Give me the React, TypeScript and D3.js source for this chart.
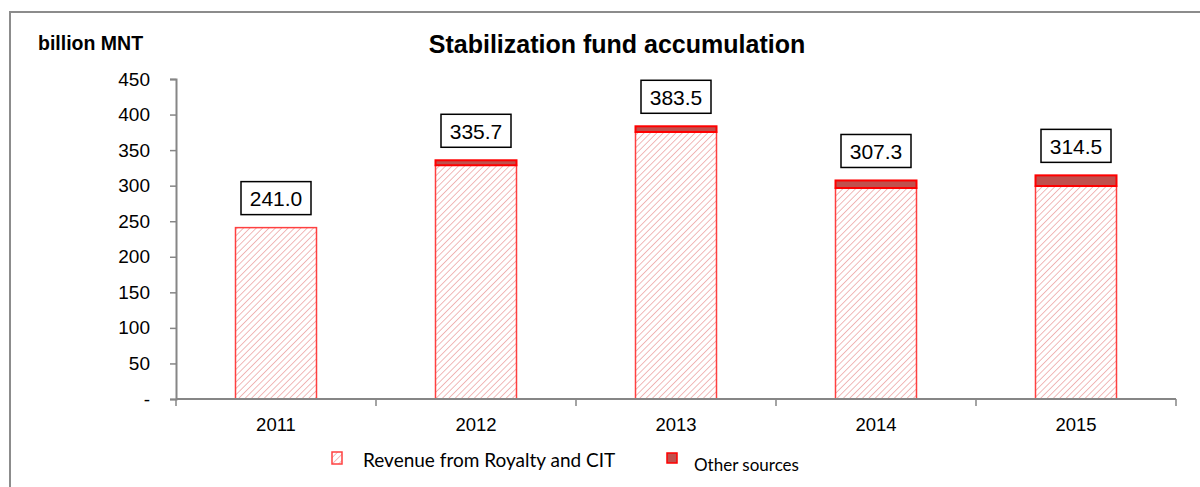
import * as d3 from "d3";
import { useEffect, useRef } from "react";

const years = ["2011", "2012", "2013", "2014", "2015"];
const royalty = [241.0, 328.7, 375.5, 296.7, 299.5];
const other = [0, 7.0, 8.0, 10.6, 15.0];
const totals = ["241.0", "335.7", "383.5", "307.3", "314.5"];
const yTicks = [0, 50, 100, 150, 200, 250, 300, 350, 400, 450];

const W = 1200;
const H = 487;
const plot = { left: 176, right: 1176, top: 79, bottom: 399 };
const FONT = "Liberation Sans, Arial, sans-serif";

function drawChart(node: SVGSVGElement) {
  const svg = d3.select(node);
  svg.selectAll("*").remove();

  const defs = svg.append("defs");
  const pat = defs
    .append("pattern")
    .attr("id", "hatch")
    .attr("patternUnits", "userSpaceOnUse")
    .attr("width", 4.5)
    .attr("height", 4.5)
    .attr("patternTransform", "rotate(45)");
  pat.append("rect").attr("width", 4.5).attr("height", 4.5).attr("fill", "#fff");
  pat
    .append("line")
    .attr("x1", 0)
    .attr("y1", 0)
    .attr("x2", 0)
    .attr("y2", 4.5)
    .attr("stroke", "#efb2b2")
    .attr("stroke-width", 1.8);

  // outer frame
  svg
    .append("path")
    .attr("d", `M10,${H + 5} L10,12 L${W + 5},12`)
    .attr("fill", "none")
    .attr("stroke", "#8c8c8c")
    .attr("stroke-width", 2);

  const x = d3
    .scaleBand<string>()
    .domain(years)
    .range([plot.left, plot.right])
    .paddingInner(0.595)
    .paddingOuter(0.2975);

  const y = d3.scaleLinear().domain([0, 450]).range([plot.bottom, plot.top]);

  // title + unit
  svg
    .append("text")
    .attr("x", 617)
    .attr("y", 53)
    .attr("text-anchor", "middle")
    .style("font-family", FONT)
    .style("font-weight", "bold")
    .style("font-size", "25px")
    .text("Stabilization fund accumulation");

  svg
    .append("text")
    .attr("x", 38)
    .attr("y", 50)
    .style("font-family", FONT)
    .style("font-weight", "bold")
    .style("font-size", "19.5px")
    .text("billion MNT");

  // bars: royalty part
  svg
    .append("g")
    .selectAll("rect")
    .data(years)
    .enter()
    .append("rect")
    .attr("x", (d) => x(d)!)
    .attr("width", x.bandwidth())
    .attr("y", (d, i) => y(royalty[i]))
    .attr("height", (d, i) => y(0) - y(royalty[i]))
    .attr("fill", "url(#hatch)")
    .attr("stroke", "#ff4040")
    .attr("stroke-width", 1.5);

  // bars: other sources
  svg
    .append("g")
    .selectAll("rect")
    .data(years.filter((d, i) => other[i] > 0))
    .enter()
    .append("rect")
    .attr("x", (d) => x(d)!)
    .attr("width", x.bandwidth())
    .attr("y", (d) => y(royalty[years.indexOf(d)] + other[years.indexOf(d)]))
    .attr("height", (d) => y(0) - y(other[years.indexOf(d)]))
    .attr("fill", "#c0504d")
    .attr("stroke", "#ff0000")
    .attr("stroke-width", 2);

  // axes
  const yAxis = svg
    .append("g")
    .attr("transform", `translate(${plot.left},0)`)
    .call(
      d3
        .axisLeft(y)
        .tickValues(yTicks)
        .tickSize(6)
        .tickPadding(20)
        .tickFormat((d) => (d === 0 ? "-" : String(d)))
    );
  yAxis.select(".domain").attr("stroke", "#868686").attr("stroke-width", 2);
  yAxis.selectAll(".tick line").attr("stroke", "#868686").attr("stroke-width", 1.5);
  yAxis
    .selectAll(".tick text")
    .attr("fill", "#000")
    .style("font-family", FONT)
    .style("font-size", "19px");

  const xAxisG = svg.append("g").attr("transform", `translate(0,${plot.bottom})`);
  xAxisG
    .append("line")
    .attr("x1", plot.left)
    .attr("x2", plot.right)
    .attr("stroke", "#868686")
    .attr("stroke-width", 2);
  const step = x.step();
  const boundaries = d3.range(years.length + 1).map((i) => plot.left + i * step);
  xAxisG
    .selectAll("line.tk")
    .data(boundaries)
    .enter()
    .append("line")
    .classed("tk", true)
    .attr("x1", (d) => d)
    .attr("x2", (d) => d)
    .attr("y1", 0)
    .attr("y2", 7)
    .attr("stroke", "#868686")
    .attr("stroke-width", 1.5);
  xAxisG
    .selectAll("text")
    .data(years)
    .enter()
    .append("text")
    .attr("x", (d) => x(d)! + x.bandwidth() / 2)
    .attr("y", 32)
    .attr("text-anchor", "middle")
    .style("font-family", FONT)
    .style("font-size", "18.5px")
    .text((d) => d);

  // total labels
  const lbl = svg
    .append("g")
    .selectAll("g")
    .data(years)
    .enter()
    .append("g")
    .attr("transform", (d, i) => {
      const cx = x(d)! + x.bandwidth() / 2;
      const cy = y(royalty[i] + other[i]) - 29;
      return `translate(${cx},${cy})`;
    });
  lbl
    .append("rect")
    .attr("x", -35)
    .attr("y", -17)
    .attr("width", 70)
    .attr("height", 33)
    .attr("fill", "#fff")
    .attr("stroke", "#000")
    .attr("stroke-width", 1.5);
  lbl
    .append("text")
    .attr("y", 7.5)
    .attr("text-anchor", "middle")
    .style("font-family", FONT)
    .style("font-size", "21px")
    .text((d, i) => totals[i]);

  // legend
  const leg = svg.append("g");
  leg
    .append("rect")
    .attr("x", 332)
    .attr("y", 452)
    .attr("width", 10)
    .attr("height", 12)
    .attr("fill", "url(#hatch)")
    .attr("stroke", "#ff4040")
    .attr("stroke-width", 1.5);
  leg
    .append("text")
    .attr("x", 363)
    .attr("y", 467)
    .style("font-family", "Lato, Open Sans, sans-serif")
    .style("font-size", "19px")
    .text("Revenue from Royalty and CIT");
  leg
    .append("rect")
    .attr("x", 667)
    .attr("y", 453)
    .attr("width", 10)
    .attr("height", 10)
    .attr("fill", "#c0504d")
    .attr("stroke", "#ff0000")
    .attr("stroke-width", 1.5);
  leg
    .append("text")
    .attr("x", 694)
    .attr("y", 471)
    .style("font-family", "Lato, Open Sans, sans-serif")
    .style("font-size", "17px")
    .text("Other sources");
}

export default function App() {
  const ref = useRef<SVGSVGElement>(null);
  useEffect(() => {
    if (ref.current) drawChart(ref.current);
  }, []);
  return (
    <div style={{ position: "absolute", left: 0, top: 0 }}>
      <svg ref={ref} width={W} height={H} style={{ display: "block", background: "#fff" }} />
    </div>
  );
}
